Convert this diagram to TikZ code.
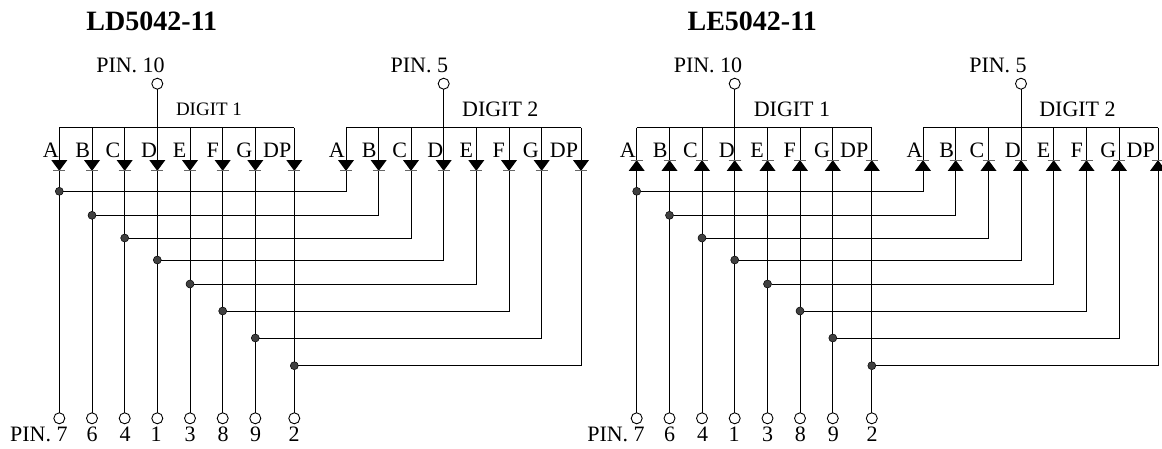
\documentclass[tikz,border=0pt]{standalone}
\usepackage{fontspec}
\setmainfont{Liberation Serif}
\newcommand{\lbl}{\fontsize{22}{24}\selectfont}
\newcommand{\lblsmall}{\fontsize{19}{21}\selectfont}
\newcommand{\ttl}{\fontsize{28}{30}\selectfont\bfseries}
\newcommand{\dntri}[1]{%
  \fill (#1.north west) -- (#1.north east) -- (#1.south) -- cycle;
  \draw[barline] ([xshift=-6pt]#1.south) -- ([xshift=6pt]#1.south);}
\newcommand{\uptri}[1]{%
  \fill (#1.south west) -- (#1.south east) -- (#1.north) -- cycle;
  \draw[barline] ([xshift=-6pt]#1.north) -- ([xshift=6pt]#1.north);}
% #1 prefix, #2 diode drawer, #3 data:
% index / x digit 1 / x digit 2 / net y / label x 1 / label x 2 / segment / pin / pin label x
\newcommand{\ledpanel}[3]{%
  \foreach \n/\xa/\xb/\yw/\la/\lb/\seg/\pn/\pl in {#3} {
    \coordinate (#1ba\n) at (\xa,127.7);
    \coordinate (#1bb\n) at (\xb,127.7);
    \node[diodebox] (#1a\n) at (\xa,165.5) {};
    \node[diodebox] (#1b\n) at (\xb,165.5) {};
    #2{#1a\n}
    #2{#1b\n}
    \node[jointdot] (#1d\n) at (\xa,\yw) {};
    \node[pinring] (#1p\n) at (\xa,418.3) {};
    \draw[wire] (#1ba\n) -- (#1a\n.north);
    \draw[wire] (#1bb\n) -- (#1b\n.north);
    \draw[wire] (#1a\n.south) -- (#1d\n) -- (#1p\n);
    \draw[wire] (#1d\n) -| (#1b\n.south);
    \node[seglabel] (#1la\n) at (\la,157.7) {\seg};
    \node[seglabel] (#1lb\n) at (\lb,157.7) {\seg};
    \ifx\pl\empty\else\node[seglabel] (#1lp\n) at (\pl,441.7) {\pn};\fi
  }
  \draw[wire] (#1ba1) -- (#1ba8);
  \draw[wire] (#1bb1) -- (#1bb8);
}
\tikzset{
  wire/.style={line width=1pt,black},
  barline/.style={line width=0.9pt,black!60},
  diodebox/.style={rectangle,minimum width=16pt,minimum height=10.8pt,inner sep=0pt,outer sep=0pt},
  jointdot/.style={circle,draw=black,line width=0.5pt,fill=black!75,minimum size=8pt,inner sep=0pt,outer sep=0pt},
  pinring/.style={circle,draw=black,line width=0.9pt,fill=white,minimum size=11pt,inner sep=0pt,outer sep=0pt},
  seglabel/.style={anchor=base,inner sep=0pt,font=\lbl},
  smalllabel/.style={anchor=base,inner sep=0pt,font=\lblsmall},
  titlelabel/.style={anchor=base,inner sep=0pt,font=\ttl},
}
\begin{document}
\begin{tikzpicture}[x=1pt,y=-1pt]
\useasboundingbox (0,0) rectangle (1162,448);
\fill[white] (0,0) rectangle (1162,448);
\node[titlelabel] (t1) at (151.7,30.7) {LD5042-11};
\node[titlelabel] (t2) at (752.2,30.7) {LE5042-11};

\ledpanel{L}{\dntri}{%
 1/59.3/346.0/191.3/50.8/336.7/A/7/,
 2/92.0/378.7/215.3/82.7/369.3/B/6/92.0,
 3/124.7/411.0/238.0/113.0/399.7/C/4/125.0,
 4/157.3/443.7/260.0/149.0/435.2/D/1/156.0,
 5/190.0/476.3/284.0/179.7/466.3/E/3/190.0,
 6/222.7/509.0/311.0/212.8/498.8/F/8/223.0,
 7/255.3/541.7/338.0/244.3/530.8/G/9/255.7,
 8/294.3/581.0/365.7/277.3/564.0/DP/2/294.0}

\ledpanel{R}{\uptri}{%
 1/636.7/923.0/191.3/627.8/914.5/A/7/,
 2/669.5/955.7/215.3/660.3/946.7/B/6/669.7,
 3/702.0/988.5/238.0/690.5/977.0/C/4/702.7,
 4/734.7/1021.0/260.0/726.8/1012.7/D/1/734.0,
 5/767.5/1053.7/284.0/757.2/1043.7/E/3/767.7,
 6/800.0/1086.5/311.0/789.7/1076.7/F/8/800.3,
 7/832.8/1119.0/338.0/822.0/1108.3/G/9/833.3,
 8/871.8/1158.0/365.7/854.3/1140.7/DP/2/872.0}

% common pins
\node[pinring] (Lc1) at (157.3,83.7) {};
\node[pinring] (Lc2) at (443.7,83.7) {};
\node[pinring] (Rc1) at (734.7,83.7) {};
\node[pinring] (Rc2) at (1021.0,83.7) {};
\draw[wire] (Lc1) -- (Lba4);
\draw[wire] (Lc2) -- (Lbb4);
\draw[wire] (Rc1) -- (Rba4);
\draw[wire] (Rc2) -- (Rbb4);

\node[seglabel] (Lt1) at (130.5,72.7) {PIN. 10};
\node[seglabel] (Lt2) at (419.3,72.7) {PIN. 5};
\node[seglabel] (Rt1) at (708.0,72.7) {PIN. 10};
\node[seglabel] (Rt2) at (998.0,72.7) {PIN. 5};

\node[smalllabel] (Ld1) at (209.0,115) {DIGIT 1};
\node[seglabel] (Ld2) at (500.3,116.7) {DIGIT 2};
\node[seglabel] (Rd1) at (792.0,116.7) {DIGIT 1};
\node[seglabel] (Rd2) at (1077.5,116.7) {DIGIT 2};

\node[seglabel] (Lb7) at (38.8,441.7) {PIN. 7};
\node[seglabel] (Rb7) at (616.0,441.7) {PIN. 7};
\end{tikzpicture}
\end{document}
